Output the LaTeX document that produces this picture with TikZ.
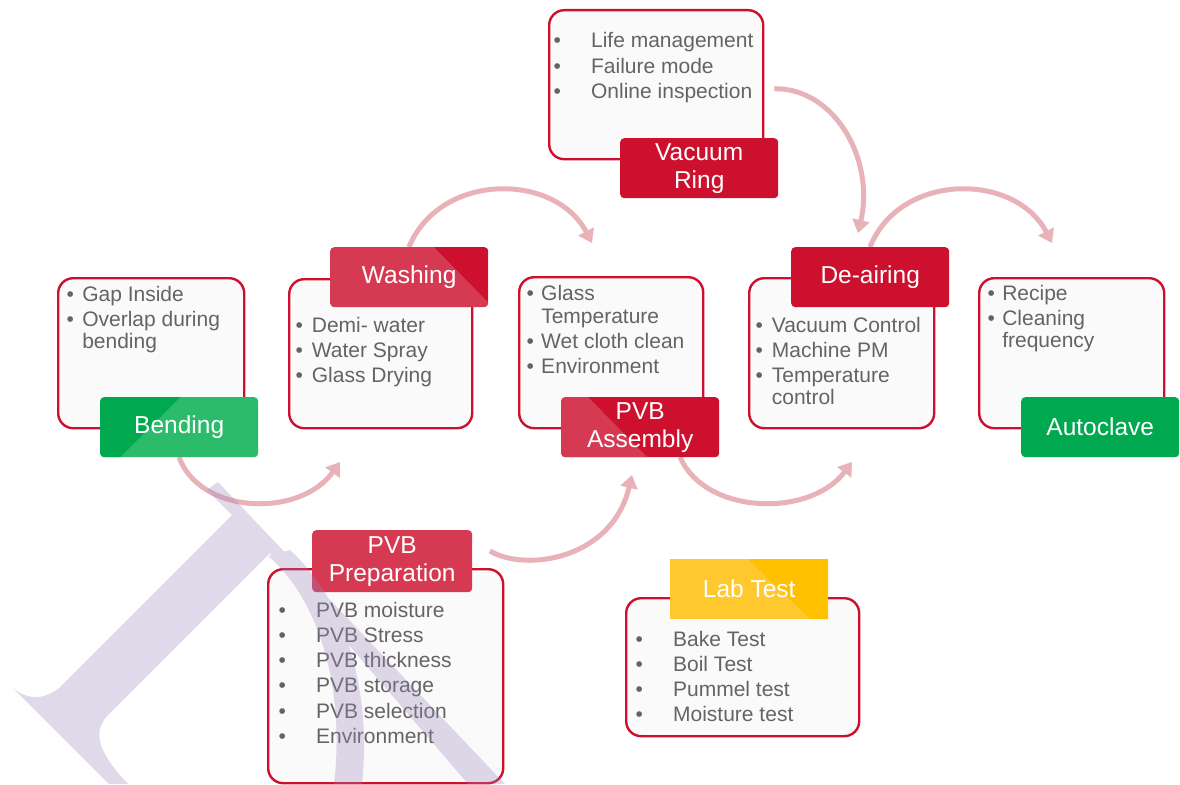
\documentclass[tikz,border=0pt]{standalone}
\usepackage{fontspec}
\setmainfont{Liberation Sans}
\usetikzlibrary{arrows.meta}

\definecolor{crim}{RGB}{204,16,46}
\definecolor{rosered}{RGB}{214,58,82}
\definecolor{grdark}{RGB}{0,168,80}
\definecolor{grlight}{RGB}{43,187,106}
\definecolor{ylight}{RGB}{255,200,46}
\definecolor{ydark}{RGB}{255,192,0}
\definecolor{bodytext}{RGB}{100,100,100}
\definecolor{flowpink}{RGB}{232,178,184}
\definecolor{boxfill}{RGB}{250,250,250}
\definecolor{wmcolor}{RGB}{155,132,188}

\tikzset{
  card/.style={draw=crim, line width=2.4pt, fill=boxfill, rounded corners=15pt,
    anchor=north west, inner sep=0pt},
  headtag/.style={rounded corners=4pt, minimum width=158pt, minimum height=60pt,
    inner sep=0pt, anchor=north west, text=white, align=center,
    font=\fontsize{24.5}{28}\selectfont},
  itemlist/.style={anchor=base west, inner sep=0pt, text=bodytext,
    font=\fontsize{21}{25.3}\selectfont},
  flowarrow/.style={draw=flowpink, line width=5pt,
    -{Triangle[length=13pt,width=17pt]}},
}

\newcommand{\itemrows}[2]{\begin{tabular}[t]{@{}l@{\hspace{#1}}l@{}}#2\end{tabular}}

\begin{document}
\begin{tikzpicture}[x=1pt,y=-1pt]
\useasboundingbox (0,0) rectangle (1180,784);
\fill[white] (0,0) rectangle (1180,784);

% free ends of the flow arrows
\coordinate (a1end) at (340,462);
\coordinate (a2end) at (592,243);
\coordinate (a3end) at (632,475);
\coordinate (a4end) at (852,462);
\coordinate (a5end) at (858,233);
\coordinate (a6end) at (1052,243);

% cards (drawn first so positions are known for the arrows)
\begin{scope}[on background layer/.style={}]
\end{scope}

% flow arrows sit underneath the cards and tags
\node[card, minimum width=214pt, minimum height=149pt] (vrbox) at (548,9) {};
\path (vrbox.east) ++(10pt,-4pt) coordinate (a5start);
\draw[flowarrow] (a5start) .. controls (835,88) and (875,160) .. (a5end);

\coordinate (a1start) at (179,457);
\coordinate (a2start) at (409,247);
\coordinate (a3start) at (490,551);
\coordinate (a4start) at (680,457);
\coordinate (a6start) at (870,247);
\draw[flowarrow] (a1start) .. controls (200,515) and (300,518) .. (a1end);
\draw[flowarrow] (a2start) .. controls (440,172) and (555,172) .. (a2end);
\draw[flowarrow] (a3start) .. controls (525,572) and (612,560) .. (a3end);
\draw[flowarrow] (a4start) .. controls (705,515) and (810,518) .. (a4end);
\draw[flowarrow] (a6start) .. controls (900,172) and (1015,172) .. (a6end);

% remaining cards
\node[card, minimum width=183pt, minimum height=149pt] (washbox) at (288,278) {};
\node[card, minimum width=186pt, minimum height=150pt] (bendbox) at (57,277) {};
\node[card, minimum width=184pt, minimum height=151pt] (asmbox) at (518,276) {};
\node[card, minimum width=185pt, minimum height=150pt] (deairbox) at (748,277) {};
\node[card, minimum width=185pt, minimum height=150pt] (autobox) at (978,277) {};
\node[card, minimum width=235pt, minimum height=214pt] (prepbox) at (267,568) {};
\node[card, minimum width=233pt, minimum height=138pt] (labbox) at (625,597) {};

% step tags
\node[headtag, fill=crim] (vrtag) at (620,138) {Vacuum\\Ring};
\node[headtag, fill=rosered, path picture={
    \fill[crim, sharp corners] ([xshift=-54pt]path picture bounding box.north east)
      -- (path picture bounding box.north east)
      -- ([yshift=-55pt]path picture bounding box.north east) -- cycle;}]
  (washtag) at (330,247) {Washing};
\node[headtag, fill=grlight, path picture={
    \fill[grdark, sharp corners] (path picture bounding box.north west)
      -- ([xshift=80pt]path picture bounding box.north west)
      -- ([xshift=20pt]path picture bounding box.south west)
      -- (path picture bounding box.south west) -- cycle;}]
  (bendtag) at (100,397) {Bending};
\node[headtag, fill=crim] (deairtag) at (791,247) {De-airing};
\node[headtag, fill=grdark] (autotag) at (1021,397) {Autoclave};
\node[headtag, fill=crim, path picture={
    \fill[rosered, sharp corners] (path picture bounding box.north west)
      -- ([xshift=27pt]path picture bounding box.north west)
      -- ([xshift=86pt]path picture bounding box.south west)
      -- (path picture bounding box.south west) -- cycle;}]
  (asmtag) at (561,397) {PVB\\Assembly};
\node[headtag, fill=rosered, minimum width=160pt, minimum height=62pt]
  (preptag) at (312,530) {PVB\\Preparation};
\node[headtag, fill=ylight, sharp corners, path picture={
    \fill[ydark] ([xshift=78pt]path picture bounding box.north west)
      -- (path picture bounding box.north east)
      -- (path picture bounding box.south east)
      -- ([xshift=-18pt]path picture bounding box.south east) -- cycle;}]
  (labtag) at (670,559) {Lab Test};

% item lists
\node[itemlist] (vrlist) at (553.3,48) {\itemrows{30.3pt}{%
  • & Life management\\ • & Failure mode\\ • & Online inspection}};
\node[itemlist] (washlist) at (295.3,332) {\itemrows{9pt}{%
  • & Demi- water\\ • & Water Spray\\ • & Glass Drying}};
\node[itemlist] (bendlist) at (66.3,301) {\itemrows{8.4pt}{%
  • & Gap Inside\\ • & Overlap during\\[-3.3pt] & bending}};
\node[itemlist] (asmlist) at (526.3,300) {\itemrows{7.4pt}{%
  • & Glass\\[-2.3pt] & Temperature\\ • & Wet cloth clean\\ • & Environment}};
\node[itemlist] (deairlist) at (755.3,332) {\itemrows{9pt}{%
  • & Vacuum Control\\ • & Machine PM\\ • & Temperature\\[-3.3pt] & control}};
\node[itemlist] (autolist) at (987.3,300) {\itemrows{7.4pt}{%
  • & Recipe\\ • & Cleaning\\[-3.3pt] & frequency}};
\node[itemlist] (preplist) at (278.3,617) {\itemrows{30.3pt}{%
  • & PVB moisture\\ • & PVB Stress\\ • & PVB thickness\\
  • & PVB storage\\ • & PVB selection\\ • & Environment}};
\node[itemlist] (lablist) at (635.3,646) {\itemrows{30.3pt}{%
  • & Bake Test\\ • & Boil Test\\ • & Pummel test\\ • & Moisture test}};

% translucent logo mark over the lower left
\fill[wmcolor, opacity=0.3]
  (13,688) -- (109,784) -- (128,784)
    .. controls (98,752) and (92,732) .. (108,715)
    -- (270,553) -- (232,515) -- (58,689)
    .. controls (42,700) and (28,700) .. (13,688) -- cycle
  (218,482) -- (207,490) -- (270,553) -- (468,784) -- (505,784) -- cycle
  (268,556) .. controls (320,600) and (345,690) .. (334,784)
    -- (362,784) .. controls (372,690) and (345,600) .. (290,550) -- cycle;
\end{tikzpicture}
\end{document}
